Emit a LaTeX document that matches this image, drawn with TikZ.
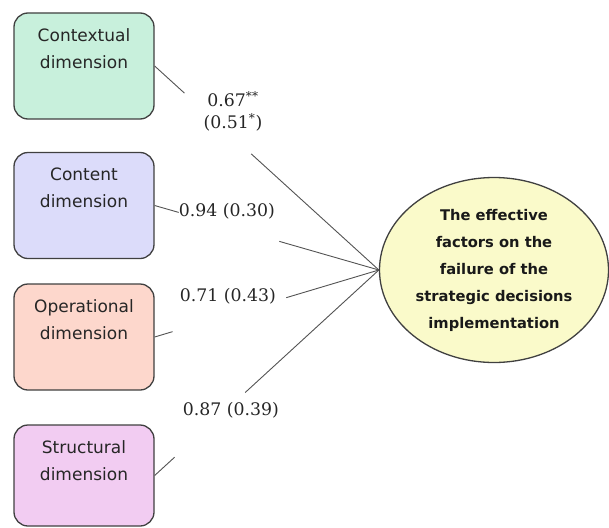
\documentclass[tikz,border=0pt]{standalone}
\usepackage{fontspec}
\setmainfont{DejaVu Serif}
\setsansfont{DejaVu Sans}
\usetikzlibrary{shapes.geometric,calc}
\begin{document}
\begin{tikzpicture}[x=1pt,y=-1pt,
        dimbox/.style={draw=edgegray, line width=1.3pt, rounded corners=14pt,
            minimum width=140pt, minimum height=106pt, inner sep=0pt,
            text width=136pt, align=center, text depth=62pt,
            font=\sffamily\fontsize{17}{27}\selectfont, text=black!85},
        goalbox/.style={draw=edgegray, line width=1.3pt, ellipse, fill=goalyellow,
            minimum width=229pt, minimum height=185pt, inner sep=0pt, align=center,
            font=\sffamily\bfseries\fontsize{14.7}{27}\selectfont, text=black!90},
        coef/.style={font=\fontsize{17.3}{22}\selectfont, text=black!85,
            align=center, inner sep=1pt},
        link/.style={draw=edgegray!90, line width=0.9pt}]
        % Define standard colors
        \definecolor{edgegray}{RGB}{64, 64, 64}
        \definecolor{ctxgreen}{RGB}{200, 240, 220} % Mint
        \definecolor{cntblue}{RGB}{220, 220, 250} % Lavender
        \definecolor{oprred}{RGB}{253, 215, 204} % Salmon
        \definecolor{strpink}{RGB}{242, 204, 242} % Pink
        \definecolor{goalyellow}{RGB}{250, 250, 202} % Yellowish

        \useasboundingbox (0,0) rectangle (609,527);

        % --- LEFT: the four dimensions ---
        \node[dimbox, fill=ctxgreen] (ctx) at (84,66) {Contextual\\dimension};
        \node[dimbox, fill=cntblue] (cnt) at (84,205.5) {Content\\dimension};
        \node[dimbox, fill=oprred] (opr) at (84,337) {Operational\\dimension};
        \node[dimbox, fill=strpink, minimum height=101pt, text depth=57pt] (str) at (84,475.5) {Structural\\dimension};

        % --- RIGHT: the outcome ---
        \node[goalbox] (goal) at (494,270) {The effective\\factors on the\\failure of the\\strategic decisions\\implementation};

        % Paths (broken where the coefficients sit)
        \draw[link] (ctx.east) -- ($(ctx.east)!0.133!(goal.west)$);
        \draw[link] ($(ctx.east)!0.431!(goal.west)$) -- (goal.west);
        \draw[link] (cnt.east) -- ($(cnt.east)!0.107!(goal.west)$);
        \draw[link] ($(cnt.east)!0.556!(goal.west)$) -- (goal.west);
        \draw[link] (opr.east) -- ($(opr.east)!0.08!(goal.west)$);
        \draw[link] ($(opr.east)!0.587!(goal.west)$) -- (goal.west);
        \draw[link] (str.east) -- ($(str.east)!0.089!(goal.west)$);
        \draw[link] ($(str.east)!0.404!(goal.west)$) -- (goal.west);

        % Coefficients
        \node[coef] (lctx) at (233,111) {0.67\textsuperscript{**}\\(0.51\textsuperscript{*})};
        \node[coef] (lcnt) at (227,211) {0.94 (0.30)};
        \node[coef] (lopr) at (228,296) {0.71 (0.43)};
        \node[coef] (lstr) at (231,410) {0.87 (0.39)};
    \end{tikzpicture}
\end{document}
